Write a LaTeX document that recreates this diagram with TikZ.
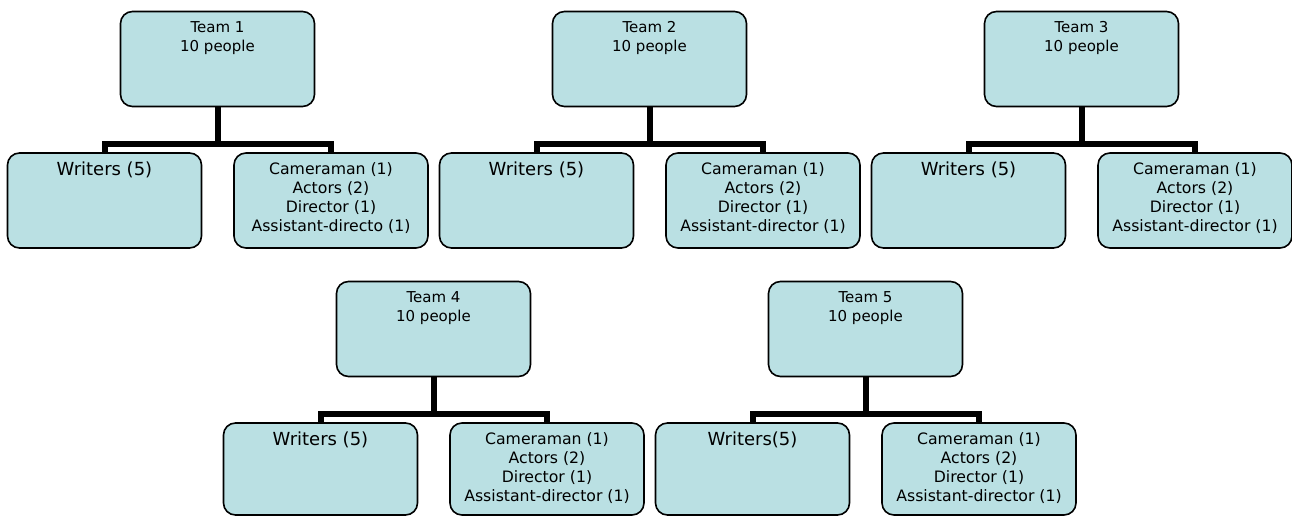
\documentclass[tikz,border=0pt]{standalone}
\usepackage{fontspec}
\setmainfont{DejaVu Sans}
\usetikzlibrary{calc}
\definecolor{boxfill}{RGB}{186,224,227}
\begin{document}
\begin{tikzpicture}[x=1pt,y=-1pt,
  box/.style={draw=black, line width=1.6pt, fill=boxfill, rounded corners=12pt,
    minimum width=194pt, minimum height=95pt, inner sep=0pt, outer sep=0pt},
  conn/.style={line width=6pt, line join=miter},
  teamtxt/.style={anchor=north, inner sep=0pt, align=center, font=\fontsize{15}{19}\selectfont},
  camtxt/.style={anchor=north, inner sep=0pt, align=center, font=\fontsize{15.7}{19.1}\selectfont},
  writtxt/.style={anchor=north, inner sep=0pt, align=center, font=\fontsize{18}{22}\selectfont}]
\useasboundingbox (0,0) rectangle (1292,516);
\foreach \i/\dx/\dy/\ch/\wt/\ad in {
  1/0/0/95/{Writers (5)}/{Assistant-directo (1)},
  2/432/0/95/{Writers (5)}/{Assistant-director (1)},
  3/864/0/95/{Writers (5)}/{Assistant-director (1)},
  4/216/270/92/{Writers (5)}/{Assistant-director (1)},
  5/648/270/92/{Writers(5)}/{Assistant-director (1)}}{
  \node[box] (t\i) at (217.5+\dx, 59+\dy) {};
  \node[box, minimum height=\ch pt] (w\i) at (104.5+\dx, 153+\dy+\ch/2) {};
  \node[box, minimum height=\ch pt] (c\i) at (331+\dx, 153+\dy+\ch/2) {};
  \coordinate (j\i) at ($(t\i.south)+(0,37)$);
  \draw[conn] (t\i.south) -- (j\i);
  \draw[conn] (w\i.north) |- (j\i) -| (c\i.north);
  \node[teamtxt] (tt\i) at ($(t\i.north)+(0,10)$) {Team \i\\10 people};
  \node[writtxt] (wt\i) at ($(w\i.north)+(0,9)$) {\wt};
  \node[camtxt] (ct\i) at ($(c\i.north)+(0,9)$) {Cameraman (1)\\Actors (2)\\Director (1)\\\ad};
}
\end{tikzpicture}
\end{document}
